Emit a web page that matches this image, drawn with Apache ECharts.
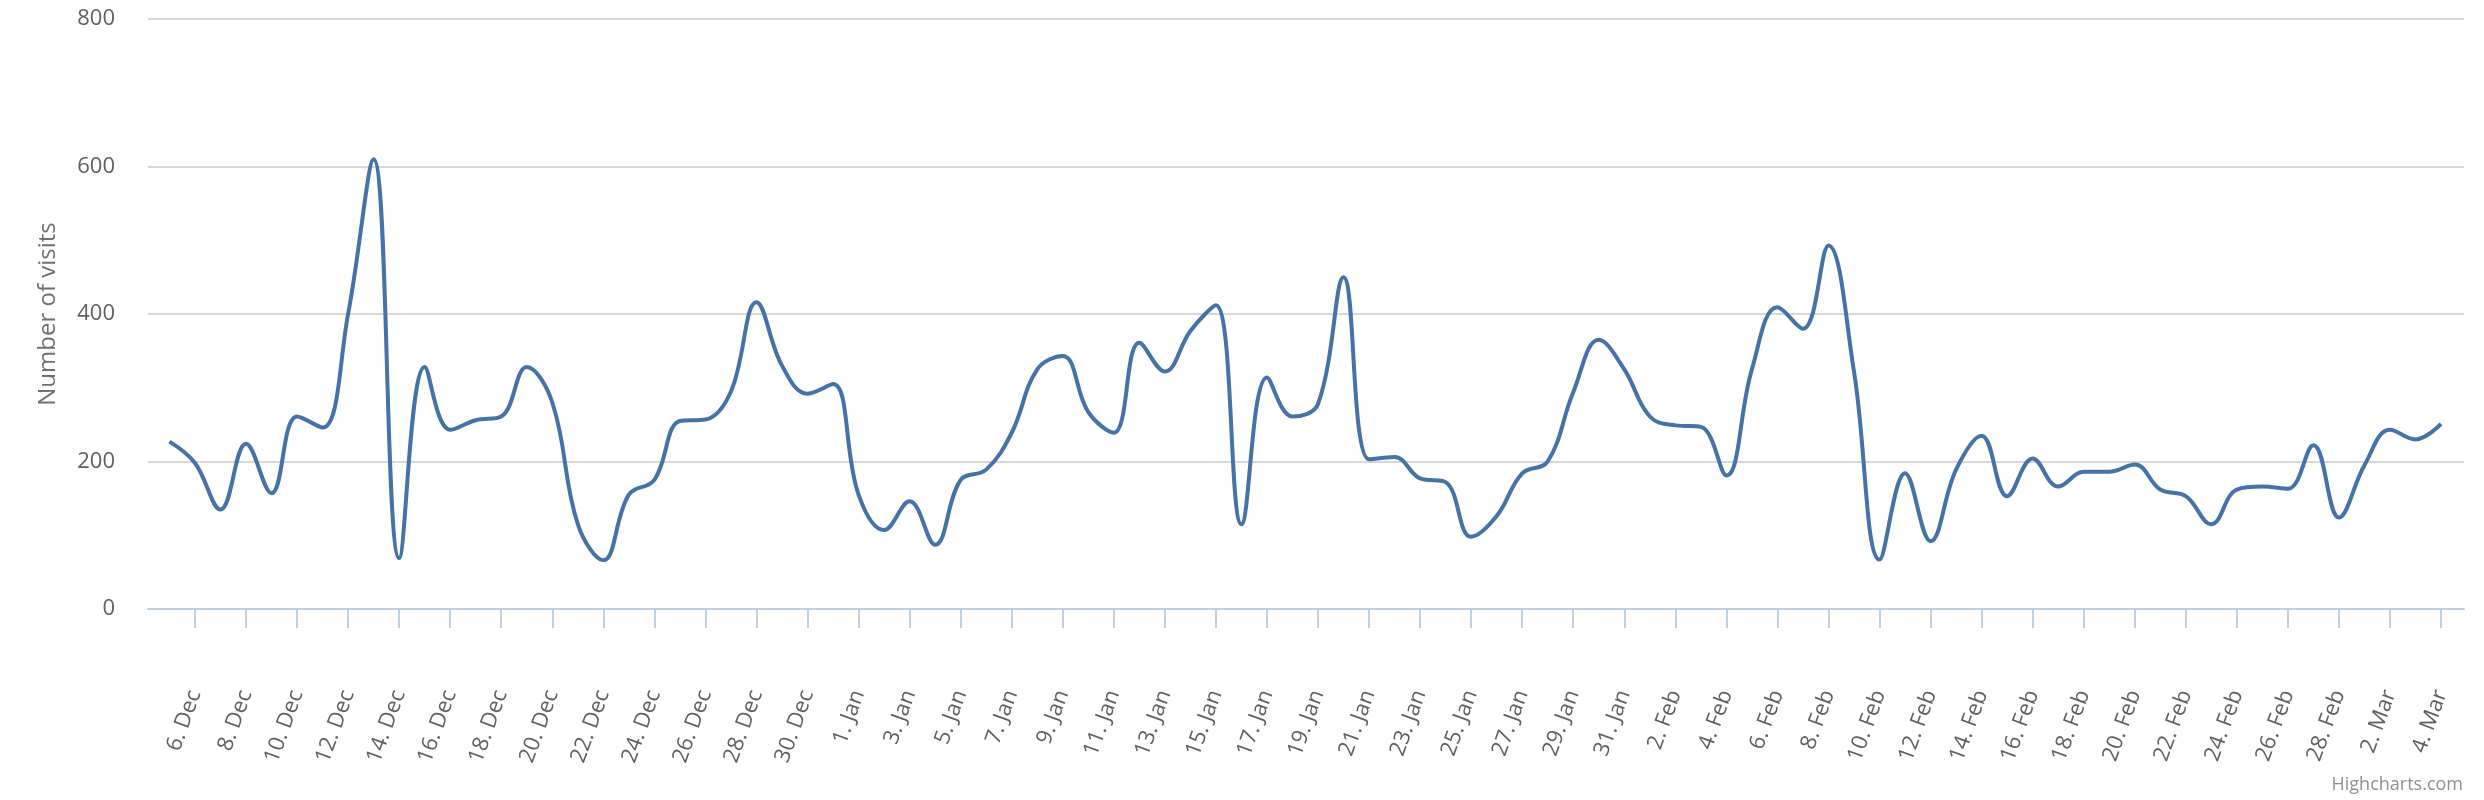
<!DOCTYPE html>
<html>
<head>
<meta charset="utf-8">
<script src="https://cdn.jsdelivr.net/npm/echarts@6/dist/echarts.min.js"></script>
<style>
html,body{margin:0;padding:0;background:#fff;}
#chart{width:2484px;height:800px;}
</style>
</head>
<body>
<div id="chart"></div>
<script>
// One label per day, 5 Dec .. 4 Mar
var days = [
  "5. Dec","6. Dec","7. Dec","8. Dec","9. Dec","10. Dec","11. Dec","12. Dec","13. Dec","14. Dec",
  "15. Dec","16. Dec","17. Dec","18. Dec","19. Dec","20. Dec","21. Dec","22. Dec","23. Dec","24. Dec",
  "25. Dec","26. Dec","27. Dec","28. Dec","29. Dec","30. Dec","31. Dec","1. Jan","2. Jan","3. Jan",
  "4. Jan","5. Jan","6. Jan","7. Jan","8. Jan","9. Jan","10. Jan","11. Jan","12. Jan","13. Jan",
  "14. Jan","15. Jan","16. Jan","17. Jan","18. Jan","19. Jan","20. Jan","21. Jan","22. Jan","23. Jan",
  "24. Jan","25. Jan","26. Jan","27. Jan","28. Jan","29. Jan","30. Jan","31. Jan","1. Feb","2. Feb",
  "3. Feb","4. Feb","5. Feb","6. Feb","7. Feb","8. Feb","9. Feb","10. Feb","11. Feb","12. Feb",
  "13. Feb","14. Feb","15. Feb","16. Feb","17. Feb","18. Feb","19. Feb","20. Feb","21. Feb","22. Feb",
  "23. Feb","24. Feb","25. Feb","26. Feb","27. Feb","28. Feb","1. Mar","2. Mar","3. Mar","4. Mar"
];
var visits = [
  227,198,135,224,157,261,246,400,610,69,
  328,243,256,261,328,280,115,66,155,175,
  255,257,295,416,330,292,305,155,107,146,
  87,175,189,239,325,343,267,239,361,322,
  377,412,115,314,261,278,450,203,206,177,
  172,98,126,184,200,294,365,325,261,249,
  247,181,325,409,380,493,322,67,184,92,
  189,235,153,204,166,186,186,196,162,153,
  115,162,166,163,222,124,195,243,230,251
];
var yTicks = [0, 200, 400, 600, 800];
var yTitle = "Number of visits";
var credit = "Highcharts.com";

// ticks every second day, starting at 6. Dec
var tickIdx = [];
for (var i = 1; i < days.length; i += 2) tickIdx.push(i);

var seriesData = visits.map(function (v, i) { return [i, v]; });

var chart = echarts.init(document.getElementById('chart'), null, {renderer: 'canvas'});
chart.setOption({
  animation: false,
  backgroundColor: '#ffffff',
  grid: {left: 148, right: 20, top: 19, bottom: 191, containLabel: false},
  xAxis: {
    type: 'value',
    min: -0.84,
    max: 89.9,
    splitLine: {show: false},
    axisLine: {show: true, lineStyle: {color: '#C0D0E0', width: 2}},
    axisTick: {show: true, length: 19, lineStyle: {color: '#C0D0E0', width: 2}, customValues: tickIdx},
    axisLabel: {
      customValues: tickIdx,
      rotate: 70,
      margin: 82,
      fontSize: 22,
      fontFamily: 'Open Sans',
      color: '#606060',
      formatter: function (v) { return days[Math.round(v)]; }
    }
  },
  yAxis: {
    type: 'value',
    min: yTicks[0],
    max: yTicks[yTicks.length - 1],
    interval: 200,
    name: yTitle,
    nameLocation: 'middle',
    nameRotate: 90,
    nameGap: 88,
    nameTextStyle: {fontSize: 24, fontFamily: 'Open Sans', color: '#707070'},
    axisLine: {show: false},
    axisTick: {show: false},
    axisLabel: {fontSize: 22, fontFamily: 'Open Sans', color: '#606060', margin: 33},
    splitLine: {show: true, lineStyle: {color: '#D8D8D8', width: 2}}
  },
  series: [{
    type: 'line',
    data: seriesData,
    smooth: 0.4,
    showSymbol: false,
    symbol: 'none',
    lineStyle: {color: '#4572A7', width: 4},
    itemStyle: {color: '#4572A7'}
  }],
  graphic: [{
    type: 'text',
    right: 21,
    bottom: 6,
    style: {text: credit, fontSize: 18, fontFamily: 'Open Sans', fill: '#909090'}
  }]
});
</script>
</body>
</html>
